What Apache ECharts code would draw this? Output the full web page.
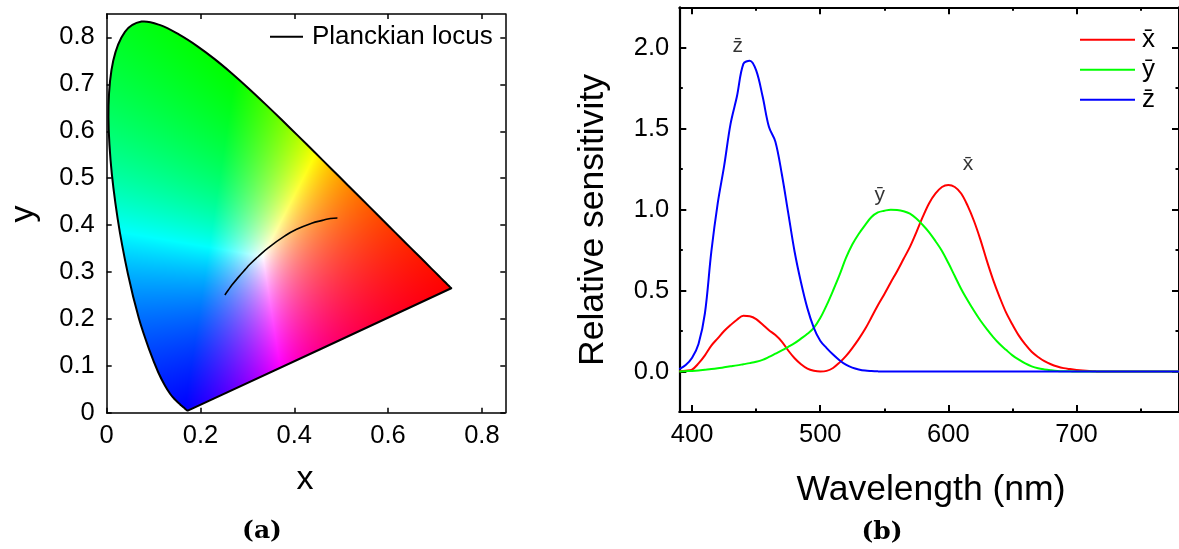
<!DOCTYPE html>
<html><head><meta charset="utf-8">
<script src="https://cdn.jsdelivr.net/npm/echarts@6/dist/echarts.min.js"></script>
<style>html,body{margin:0;padding:0;background:#fff}#c{width:1179px;height:549px}</style>
</head><body><div id="c"></div>
<script>
// ---------- (a) CIE 1931 chromaticity diagram ----------
const locusNm = [380,390,400,410,420,430,440,445,450,455,460,465,470,475,480,485,490,495,500,505,510,515,520,525,530,535,540,545,550,555,560,565,570,575,580,585,590,595,600,605,610,620,630,640,650,660,680,700];
const locusX = [0.1741,0.1738,0.1733,0.1726,0.1714,0.1689,0.1644,0.1611,0.1566,0.1510,0.1440,0.1355,0.1241,0.1096,0.0913,0.0687,0.0454,0.0235,0.0082,0.0039,0.0139,0.0389,0.0743,0.1142,0.1547,0.1929,0.2296,0.2658,0.3016,0.3373,0.3731,0.4087,0.4441,0.4788,0.5125,0.5448,0.5752,0.6029,0.6270,0.6482,0.6658,0.6915,0.7079,0.7190,0.7260,0.7300,0.7334,0.7347];
const locusY = [0.0050,0.0049,0.0048,0.0048,0.0051,0.0069,0.0109,0.0138,0.0177,0.0227,0.0297,0.0399,0.0578,0.0868,0.1327,0.2007,0.2950,0.4127,0.5384,0.6548,0.7502,0.8120,0.8338,0.8262,0.8059,0.7816,0.7543,0.7243,0.6923,0.6589,0.6245,0.5896,0.5547,0.5202,0.4866,0.4544,0.4242,0.3965,0.3725,0.3514,0.3340,0.3083,0.2920,0.2809,0.2740,0.2700,0.2666,0.2653];
const planckX = [0.252,0.259,0.267,0.281,0.295,0.306,0.322,0.345,0.380,0.405,0.437,0.460,0.477,0.492];
const planckY = [0.251,0.261,0.272,0.289,0.305,0.317,0.332,0.352,0.377,0.391,0.404,0.410,0.414,0.415];
const cieXTicks = [0,0.2,0.4,0.6,0.8];
const cieYTicks = [0,0.1,0.2,0.3,0.4,0.5,0.6,0.7,0.8];

// ---------- (b) colour matching functions ----------
const wavelengths = [390,395,400,405,410,415,420,425,430,435,440,445,450,455,460,465,470,475,480,485,490,495,500,505,510,515,520,525,530,535,540,545,550,555,560,565,570,575,580,585,590,595,600,605,610,615,620,625,630,635,640,645,650,655,660,665,670,675,680,685,690,695,700,705,710,715,720,740,760,780];
const xBar = [0.002,0.005,0.012,0.05,0.10,0.16,0.205,0.25,0.287,0.32,0.345,0.342,0.324,0.29,0.255,0.225,0.185,0.13,0.082,0.045,0.018,0.005,0.0,0.004,0.022,0.055,0.095,0.145,0.2,0.262,0.335,0.41,0.478,0.55,0.62,0.695,0.77,0.86,0.955,1.04,1.10,1.14,1.152,1.14,1.10,1.025,0.93,0.815,0.685,0.565,0.46,0.365,0.29,0.222,0.168,0.122,0.09,0.064,0.045,0.031,0.021,0.015,0.01,0.006,0.003,0.001,0,0,0,0];
const yBar = [0.0,0.002,0.004,0.007,0.011,0.015,0.02,0.026,0.032,0.038,0.045,0.052,0.06,0.072,0.09,0.11,0.13,0.152,0.175,0.203,0.233,0.27,0.33,0.41,0.50,0.595,0.70,0.785,0.85,0.905,0.955,0.983,0.993,1.0,0.998,0.99,0.975,0.945,0.905,0.86,0.805,0.745,0.67,0.59,0.51,0.44,0.375,0.315,0.262,0.213,0.17,0.134,0.10,0.073,0.05,0.032,0.02,0.013,0.008,0.004,0.002,0.001,0,0,0,0,0,0,0,0];
const zBar = [0.015,0.04,0.085,0.17,0.36,0.74,1.04,1.27,1.53,1.70,1.90,1.92,1.86,1.70,1.51,1.42,1.22,0.98,0.74,0.55,0.39,0.27,0.19,0.145,0.105,0.07,0.042,0.024,0.013,0.006,0.003,0.001,0,0,0,0,0,0,0,0,0,0,0,0,0,0,0,0,0,0,0,0,0,0,0,0,0,0,0,0,0,0,0,0,0,0,0,0,0,0];
const seriesNames = ['x\u0304','y\u0304','z\u0304'];
const curveLabels = ['z\u0304','y\u0304','x\u0304'];
const curveLabelNm = [435.7,546.5,615.4];
const curveLabelVal = [2.01,1.092,1.278];
const nmLabelTicks = [400,500,600,700];
const nmMinorTicks = [450,550,650,750];
const sensLabelTicks = [0,0.5,1,1.5,2];
const sensMinorTicks = [0.25,0.75,1.25,1.75];

const FONT = 'Liberation Sans, Arial, sans-serif';
const TICKFS = 25.5;
const chart = echarts.init(document.getElementById('c'), null, {renderer:'canvas'});

let fillCanvas = null;
function buildFill(api, rect){
  if (fillCanvas) return fillCanvas;
  const p0 = api.coord([0,0]), p1 = api.coord([1,1]);
  const sx = p1[0]-p0[0], sy = p1[1]-p0[1];
  const W = Math.ceil(rect.x+rect.width)+2, H = Math.ceil(rect.y+rect.height)+2;
  const cv = document.createElement('canvas'); cv.width = W; cv.height = H;
  const ctx = cv.getContext('2d');
  const img = ctx.createImageData(W,H); const d = img.data;
  for (let py=0; py<H; py++){
    for (let px=0; px<W; px++){
      const x = (px+0.5-p0[0])/sx, y = (py+0.5-p0[1])/sy;
      let r=1,g=1,b=1;
      if (y > 1e-4){
        const X = x/y, Z = (1-x-y)/y;
        r = 2.3646*X - 0.8965 - 0.4681*Z;
        g = -0.5152*X + 1.4264 + 0.0888*Z;
        b = 0.0052*X - 0.0144 + 1.0092*Z;
        r = Math.max(r,0); g = Math.max(g,0); b = Math.max(b,0);
        const m = Math.max(r,g,b) || 1;
        r/=m; g/=m; b/=m;
      }
      const k = (py*W+px)*4;
      d[k]=Math.round(r*255); d[k+1]=Math.round(g*255); d[k+2]=Math.round(b*255); d[k+3]=255;
    }
  }
  ctx.putImageData(img,0,0);
  fillCanvas = cv;
  return cv;
}

function tickAxis(o){
  return {
    type:'value', min:o.min, max:o.max, gridIndex:o.grid, position:o.pos,
    splitLine:{show:false},
    axisLine:{show:o.line!==false, onZero:false, lineStyle:{color:'#000', width:o.lw||1.5}},
    axisTick:{show:true, inside:true, length:o.len, customValues:o.ticks, lineStyle:{color:'#000', width:o.tw||1.5}},
    axisLabel:{show:!!o.labels, customValues:o.labels||o.ticks, color:'#000', fontSize:TICKFS, fontFamily:FONT, margin:o.margin||10, formatter:o.fmt}
  };
}
const fmtA = v => v===0 ? '0' : v.toFixed(1);
const fmtB = v => v.toFixed(1);
const fmtN = v => String(Math.round(v));

const option = {
  animation:false,
  backgroundColor:'#fff',
  grid:[
    {left:106.7, top:14, width:398.6, height:398.7},
    {left:679.3, top:7.3, width:502.7, height:404.7}
  ],
  xAxis:[
    tickAxis({grid:0,pos:'bottom',min:0,max:0.85,ticks:cieXTicks,labels:cieXTicks,len:5,fmt:fmtA,margin:10}),
    tickAxis({grid:0,pos:'top',min:0,max:0.85,ticks:cieXTicks,len:5}),
    tickAxis({grid:1,pos:'bottom',min:390,max:780,ticks:nmLabelTicks,labels:nmLabelTicks,len:7,lw:2.2,tw:2,fmt:fmtN,margin:10}),
    tickAxis({grid:1,pos:'bottom',min:390,max:780,ticks:nmMinorTicks,len:3.5,line:false,tw:2}),
    tickAxis({grid:1,pos:'top',min:390,max:780,ticks:nmLabelTicks,len:7,lw:2,tw:2}),
    tickAxis({grid:1,pos:'top',min:390,max:780,ticks:nmMinorTicks,len:3.5,line:false,tw:2})
  ],
  yAxis:[
    tickAxis({grid:0,pos:'left',min:0,max:0.85,ticks:cieYTicks,labels:cieYTicks,len:5,fmt:fmtA,margin:12}),
    tickAxis({grid:0,pos:'right',min:0,max:0.85,ticks:cieYTicks,len:5}),
    tickAxis({grid:1,pos:'left',min:-0.25,max:2.25,ticks:sensLabelTicks,labels:sensLabelTicks,len:7,lw:2.2,tw:2,fmt:fmtB,margin:10}),
    tickAxis({grid:1,pos:'left',min:-0.25,max:2.25,ticks:sensMinorTicks,len:3.5,line:false,tw:2}),
    tickAxis({grid:1,pos:'right',min:-0.25,max:2.25,ticks:sensLabelTicks,len:7,lw:2,tw:2}),
    tickAxis({grid:1,pos:'right',min:-0.25,max:2.25,ticks:sensMinorTicks,len:3.5,line:false,tw:2})
  ],
  legend:[
    {data:['Planckian locus'], left:270, top:23.7, padding:0, icon:'rect', itemWidth:33, itemHeight:2,
     textStyle:{fontSize:26, fontFamily:FONT, color:'#000', lineHeight:26, padding:[0,0,0,4]}},
    {data:seriesNames, left:1080, top:24.7, padding:0, orient:'vertical', icon:'rect', itemWidth:55, itemHeight:2, itemGap:0,
     textStyle:{fontSize:26, fontFamily:FONT, color:'#000', lineHeight:30, padding:[0,0,0,2]}}
  ],
  series:[
    {type:'custom', name:'locus', xAxisIndex:0, yAxisIndex:0, clip:false, silent:true,
     data: locusX.map((x,i)=>[x, locusY[i], locusNm[i]]),
     encode:{x:0,y:1},
     renderItem:function(params, api){
       if (params.dataIndex !== 0) return null;
       const pts = locusX.map((x,i)=>api.coord([x, locusY[i]]));
       const cv = buildFill(api, params.coordSys);
       return {type:'polygon', shape:{points:pts, smooth:0.35},
               style:{fill:{image:cv, repeat:'no-repeat'}, stroke:'#000', lineWidth:2, lineJoin:'round'}};
     }},
    {type:'line', name:'Planckian locus', xAxisIndex:0, yAxisIndex:0, smooth:true, symbol:'none',
     color:'#000', lineStyle:{color:'#000', width:1.6},
     data: planckX.map((x,i)=>[x, planckY[i]])},
    {type:'line', name:seriesNames[0], xAxisIndex:2, yAxisIndex:2, smooth:0.35, symbol:'none',
     color:'#ff0000', lineStyle:{color:'#ff0000', width:2}, data: wavelengths.map((w,i)=>[w, xBar[i]])},
    {type:'line', name:seriesNames[1], xAxisIndex:2, yAxisIndex:2, smooth:0.35, symbol:'none',
     color:'#00ff00', lineStyle:{color:'#00ff00', width:2}, data: wavelengths.map((w,i)=>[w, yBar[i]])},
    {type:'line', name:seriesNames[2], xAxisIndex:2, yAxisIndex:2, smooth:0.35, symbol:'none',
     color:'#0000ff', lineStyle:{color:'#0000ff', width:2}, data: wavelengths.map((w,i)=>[w, zBar[i]])},
    {type:'scatter', name:'labels', xAxisIndex:2, yAxisIndex:2, symbolSize:0, silent:true,
     data: curveLabelNm.map((w,i)=>[w, curveLabelVal[i]]),
     label:{show:true, position:'inside', color:'#000', fontSize:21, fontFamily:FONT,
            formatter: p => curveLabels[p.dataIndex]}}
  ],
  graphic:[
    {type:'text', x:305, y:480, style:{text:'x', font:'34px '+FONT, fill:'#000', textAlign:'center', textVerticalAlign:'middle'}},
    {type:'text', x:24, y:214, rotation:Math.PI/2, style:{text:'y', font:'34px '+FONT, fill:'#000', textAlign:'center', textVerticalAlign:'middle'}},
    {type:'text', x:931, y:490, style:{text:'Wavelength (nm)', font:'35.5px '+FONT, fill:'#000', textAlign:'center', textVerticalAlign:'middle'}},
    {type:'text', x:593, y:220, rotation:Math.PI/2, style:{text:'Relative sensitivity', font:'35.5px '+FONT, fill:'#000', textAlign:'center', textVerticalAlign:'middle'}},
    {type:'text', x:262, y:531, style:{text:'(a)', font:'bold 25px DejaVu Serif, serif', fill:'#000', textAlign:'center', textVerticalAlign:'middle'}},
    {type:'text', x:882, y:532, style:{text:'(b)', font:'bold 25px DejaVu Serif, serif', fill:'#000', textAlign:'center', textVerticalAlign:'middle'}}
  ]
};
chart.setOption(option);
</script></body></html>
